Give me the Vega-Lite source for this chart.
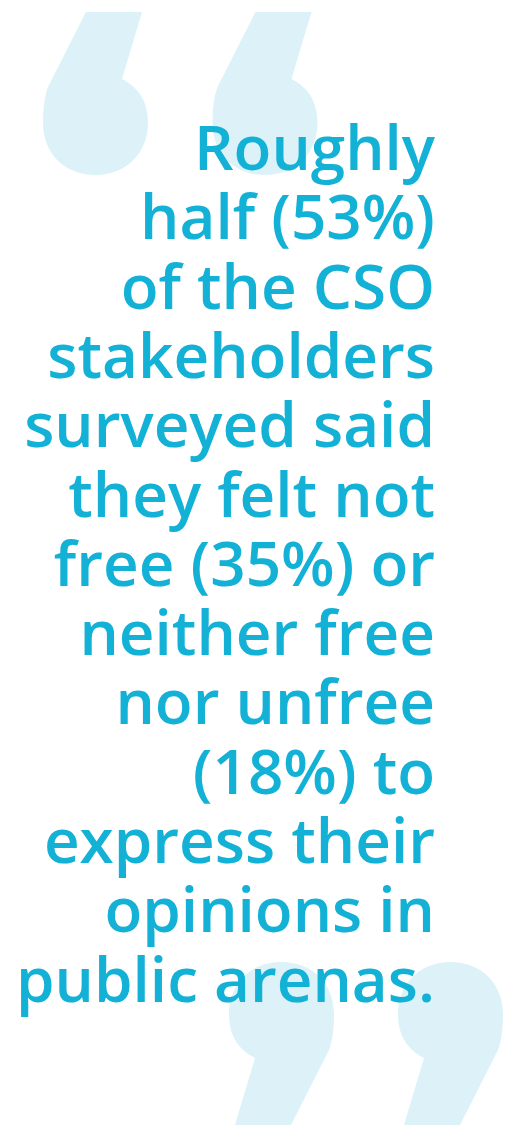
{
  "$schema": "https://vega.github.io/schema/vega-lite/v6.json",
  "width": 513,
  "height": 1125,
  "padding": 0,
  "autosize": {"type": "fit", "contains": "padding"},
  "background": "white",
  "config": {"view": {"stroke": null}},
  "datasets": {
    "quotes": [
      {"kind": "open", "x": 95.5, "y": 93.5},
      {"kind": "open", "x": 265, "y": 93.5},
      {"kind": "close", "x": 281.5, "y": 1043.5},
      {"kind": "close", "x": 450.5, "y": 1043.5}
    ],
    "lines": [
      {"line": 1, "text": "Roughly"},
      {"line": 2, "text": "half (53%)"},
      {"line": 3, "text": "of the CSO"},
      {"line": 4, "text": "stakeholders"},
      {"line": 5, "text": "surveyed said"},
      {"line": 6, "text": "they felt not"},
      {"line": 7, "text": "free (35%) or"},
      {"line": 8, "text": "neither free"},
      {"line": 9, "text": "nor unfree"},
      {"line": 10, "text": "(18%) to"},
      {"line": 11, "text": "express their"},
      {"line": 12, "text": "opinions in"},
      {"line": 13, "text": "public arenas."}
    ]
  },
  "resolve": {"scale": {"y": "independent"}},
  "layer": [
    {
      "data": {"name": "quotes"},
      "transform": [{"filter": "datum.kind === 'open'"}],
      "mark": {"type": "point", "filled": true, "opacity": 1, "angle": 180, "size": 26569, "color": "#dcf2f8",
        "shape": "M-0.006,-1 C0.387,-1 0.644,-0.73 0.644,-0.362 C0.644,-0.166 0.62,-0.018 0.583,0.08 L0.117,1 L-0.571,1 L-0.325,0.178 C-0.546,0.067 -0.644,-0.117 -0.644,-0.362 C-0.644,-0.73 -0.374,-1 -0.006,-1 Z"},
      "encoding": {
        "x": {"field": "x", "type": "quantitative", "scale": {"domain": [0, 513], "nice": false, "zero": false}, "axis": null},
        "y": {"field": "y", "type": "quantitative", "scale": {"domain": [0, 1125], "reverse": true, "nice": false, "zero": false}, "axis": null}
      }
    },
    {
      "data": {"name": "quotes"},
      "transform": [{"filter": "datum.kind === 'close'"}],
      "mark": {"type": "point", "filled": true, "opacity": 1, "angle": 0, "size": 26569, "color": "#dcf2f8",
        "shape": "M-0.006,-1 C0.387,-1 0.644,-0.73 0.644,-0.362 C0.644,-0.166 0.62,-0.018 0.583,0.08 L0.117,1 L-0.571,1 L-0.325,0.178 C-0.546,0.067 -0.644,-0.117 -0.644,-0.362 C-0.644,-0.73 -0.374,-1 -0.006,-1 Z"},
      "encoding": {
        "x": {"field": "x", "type": "quantitative", "scale": {"domain": [0, 513], "nice": false, "zero": false}, "axis": null},
        "y": {"field": "y", "type": "quantitative", "scale": {"domain": [0, 1125], "reverse": true, "nice": false, "zero": false}, "axis": null}
      }
    },
    {
      "data": {"name": "lines"},
      "mark": {"type": "text", "align": "right", "baseline": "alphabetic", "font": "Open Sans", "fontWeight": 600, "fontSize": 62, "color": "#13b1d5"},
      "encoding": {
        "x": {"datum": 435, "type": "quantitative", "scale": {"domain": [0, 513], "nice": false, "zero": false}, "axis": null},
        "y": {"field": "line", "type": "quantitative", "scale": {"domain": [1, 13], "range": [170, 1001.6], "nice": false, "zero": false}, "axis": null},
        "text": {"field": "text"}
      }
    }
  ]
}
